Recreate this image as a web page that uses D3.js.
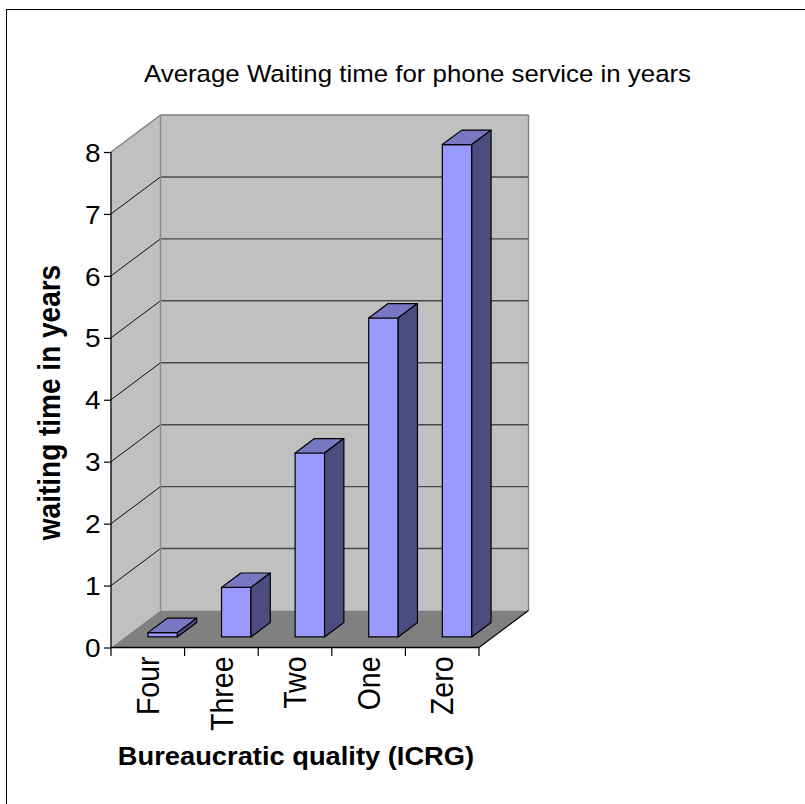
<!DOCTYPE html>
<html>
<head>
<meta charset="utf-8">
<script src="https://cdn.jsdelivr.net/npm/d3@7"></script>
<style>
  html, body { margin: 0; padding: 0; background: #fff; }
  svg { display: block; font-family: "Liberation Sans", Arial, sans-serif; }
</style>
</head>
<body>
<svg id="chart" width="805" height="804"></svg>
<script>
// Waiting time for phone service by bureaucratic quality
const categories = ["Four", "Three", "Two", "One", "Zero"];
const waitingYears = [0.07, 0.8, 2.97, 5.15, 7.95];
const yTickValues = [0, 1, 2, 3, 4, 5, 6, 7, 8];
const titleText = "Average Waiting time for phone service in years";
const yTitleText = "waiting time in years";
const xTitleText = "Bureaucratic quality (ICRG)";

const svg = d3.select("#chart");
const textStretch = 1.1;            // glyphs are drawn slightly wide

// front plane of the 3-D box and its depth offset
const frontLeft = 111, frontRight = 479, frontBottom = 647.5, frontTop = 152;
const depthX = 49.5, depthY = 37;

const x = d3.scaleBand().domain(categories).range([frontLeft, frontRight]).padding(0);
const y = d3.scaleLinear().domain([0, 8]).range([frontBottom, frontTop]);
const yMax = d3.max(yTickValues);

// project a point (front-plane x, value, depth 0..1) onto the page
const proj = (px, v, z) => [px + z * depthX, y(v) - z * depthY];
const poly = pts => "M" + pts.map(p => p.join(",")).join("L") + "Z";

// outer chart-area frame
svg.append("rect")
  .attr("x", 6.5).attr("y", 9.5).attr("width", 1000).attr("height", 1000)
  .attr("fill", "none").attr("stroke", "#000").attr("stroke-width", 1);

// walls and floor
const g = svg.append("g");
g.append("path") // left wall
  .attr("d", poly([proj(frontLeft, 0, 0), proj(frontLeft, yMax, 0), proj(frontLeft, yMax, 1), proj(frontLeft, 0, 1)]))
  .attr("fill", "#c0c0c0");
g.append("path") // back wall
  .attr("d", poly([proj(frontLeft, 0, 1), proj(frontLeft, yMax, 1), proj(frontRight, yMax, 1), proj(frontRight, 0, 1)]))
  .attr("fill", "#c0c0c0");
g.append("path") // floor
  .attr("d", poly([proj(frontLeft, 0, 0), proj(frontRight, 0, 0), proj(frontRight, 0, 1), proj(frontLeft, 0, 1)]))
  .attr("fill", "#808080");

// gridlines: along the back wall and diagonally across the left wall
const gridVals = yTickValues.filter(v => v > 0 && v < yMax);
g.selectAll("line.grid-back").data(gridVals).join("line")
  .attr("class", "grid-back")
  .attr("x1", v => proj(frontLeft, v, 1)[0]).attr("y1", v => proj(frontLeft, v, 1)[1])
  .attr("x2", v => proj(frontRight, v, 1)[0]).attr("y2", v => proj(frontRight, v, 1)[1])
  .attr("stroke", "#4a4a4a").attr("stroke-width", 1.4);
g.selectAll("line.grid-side").data(gridVals).join("line")
  .attr("class", "grid-side")
  .attr("x1", v => proj(frontLeft, v, 0)[0]).attr("y1", v => proj(frontLeft, v, 0)[1])
  .attr("x2", v => proj(frontLeft, v, 1)[0]).attr("y2", v => proj(frontLeft, v, 1)[1])
  .attr("stroke", "#111").attr("stroke-width", 1);

// wall edges
const edge = (a, b, color, w) => g.append("line")
  .attr("x1", a[0]).attr("y1", a[1]).attr("x2", b[0]).attr("y2", b[1])
  .attr("stroke", color).attr("stroke-width", w);
edge(proj(frontLeft, yMax, 0), proj(frontLeft, yMax, 1), "#808080", 1.4);
edge(proj(frontLeft, yMax, 1), proj(frontRight, yMax, 1), "#808080", 1.4);
edge(proj(frontRight, yMax, 1), proj(frontRight, 0, 1), "#808080", 1.4);
edge(proj(frontLeft, yMax, 1), proj(frontLeft, 0, 1), "#8a8a8a", 1.4);
edge(proj(frontRight, 0, 0), proj(frontRight, 0, 1), "#000", 1.2);

// bars
const barOffset = 0.31, barWidth = 0.40, z0 = 0.285, z1 = 0.675;
const bars = g.selectAll("g.bar").data(categories.map((c, i) => ({ c, v: waitingYears[i] }))).join("g")
  .attr("class", "bar")
  .attr("stroke", "#000").attr("stroke-width", 1.2).attr("stroke-linejoin", "round");
const xl = d => x(d.c) + barOffset * x.bandwidth();
const xr = d => x(d.c) + (barOffset + barWidth) * x.bandwidth();
bars.append("path") // front face
  .attr("d", d => poly([proj(xl(d), 0, z0), proj(xl(d), d.v, z0), proj(xr(d), d.v, z0), proj(xr(d), 0, z0)]))
  .attr("fill", "#9999ff");
bars.append("path") // top face
  .attr("d", d => poly([proj(xl(d), d.v, z0), proj(xl(d), d.v, z1), proj(xr(d), d.v, z1), proj(xr(d), d.v, z0)]))
  .attr("fill", "#7878c2");
bars.append("path") // side face
  .attr("d", d => poly([proj(xr(d), 0, z0), proj(xr(d), d.v, z0), proj(xr(d), d.v, z1), proj(xr(d), 0, z1)]))
  .attr("fill", "#4c4c80");

// value axis
const yAxis = svg.append("g")
  .attr("transform", `translate(${frontLeft},0)`)
  .call(d3.axisLeft(y).tickValues(yTickValues).tickFormat(d3.format("d")).tickSize(7).tickPadding(4));
yAxis.select(".domain").attr("stroke", "#000").attr("stroke-width", 1.3).attr("d", `M0,${y(yMax)}V${y(0)}`);
yAxis.selectAll(".tick line").attr("stroke", "#000").attr("stroke-width", 1.2);
yAxis.selectAll(".tick text")
  .attr("font-family", "Liberation Sans, Arial, sans-serif")
  .attr("font-size", 25.5).attr("fill", "#000")
  .attr("x", -10.5 / textStretch).attr("dy", "0.36em")
  .attr("transform", `scale(${textStretch},1)`);

// category axis: line, boundary ticks, rotated labels
const xAxis = svg.append("g");
xAxis.append("line")
  .attr("x1", frontLeft).attr("x2", frontRight).attr("y1", y(0)).attr("y2", y(0))
  .attr("stroke", "#000").attr("stroke-width", 1.3);
const bounds = categories.map(c => x(c)).concat([x.range()[1]]);
xAxis.selectAll("line.tick").data(bounds).join("line")
  .attr("class", "tick")
  .attr("x1", d => d).attr("x2", d => d).attr("y1", y(0)).attr("y2", y(0) + 8.5)
  .attr("stroke", "#000").attr("stroke-width", 1.2);
const catSize = 28.5;
xAxis.selectAll("text").data(categories).join("text")
  .attr("transform", c => `translate(${x(c) + x.bandwidth() / 2 + 0.36 * catSize * textStretch},${y(0) + 9}) scale(${textStretch},1) rotate(-90)`)
  .attr("text-anchor", "end")
  .attr("font-size", catSize).attr("fill", "#000")
  .text(c => c);

// titles
svg.append("text")
  .attr("transform", `translate(417.5,82) scale(${textStretch},1)`)
  .attr("text-anchor", "middle").attr("font-size", 23.5).attr("fill", "#000")
  .text(titleText);
svg.append("text")
  .attr("transform", `translate(59.5,402.5) scale(${textStretch},1) rotate(-90)`)
  .attr("text-anchor", "middle").attr("font-size", 28).attr("font-weight", "bold").attr("fill", "#000")
  .text(yTitleText);
svg.append("text")
  .attr("transform", `translate(296,765) scale(1.05,1)`)
  .attr("text-anchor", "middle").attr("font-size", 26).attr("font-weight", "bold").attr("fill", "#000")
  .text(xTitleText);
</script>
</body>
</html>
